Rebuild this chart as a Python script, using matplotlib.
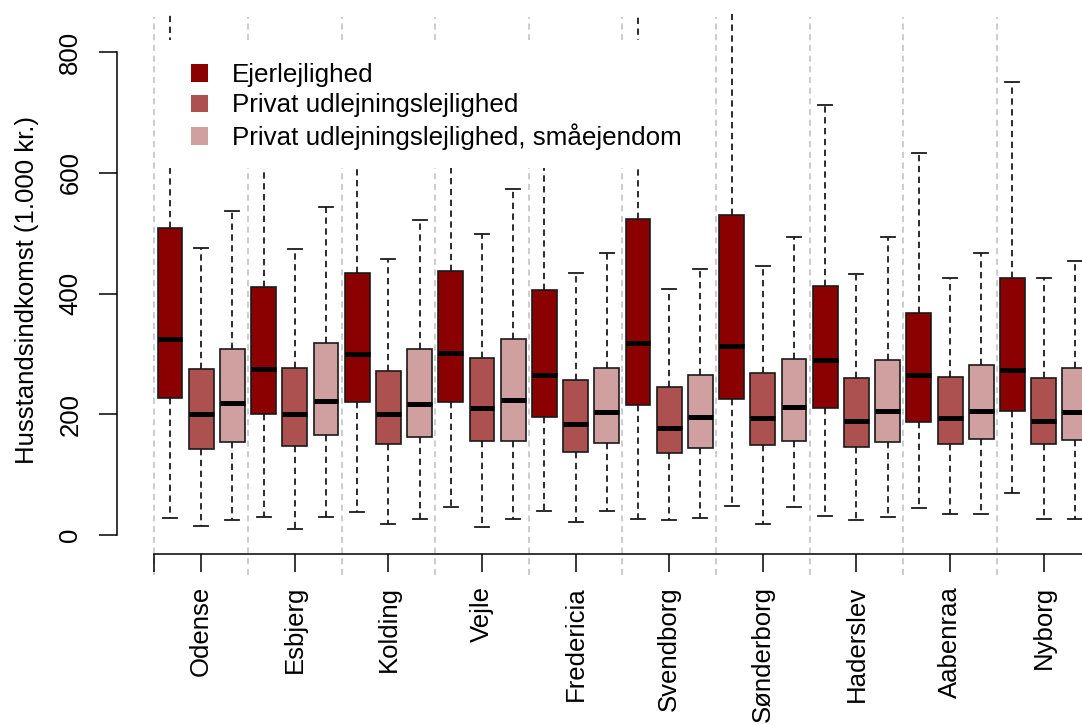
import matplotlib
matplotlib.use("Agg")
import matplotlib.pyplot as plt
from matplotlib.patches import Patch, Rectangle

plt.rcParams['font.family'] = ['Liberation Sans', 'DejaVu Sans']

cities = ['Odense', 'Esbjerg', 'Kolding', 'Vejle', 'Fredericia',
          'Svendborg', 'Sønderborg', 'Haderslev', 'Aabenraa', 'Nyborg']
types = ['Ejerlejlighed', 'Privat udlejningslejlighed',
         'Privat udlejningslejlighed, småejendom']
colors = ['#8B0000', '#AD5050', '#D0A0A0']

# Ejerlejlighed
ejer_lo = [28, 30, 38, 47, 40, 27, 48, 31, 45, 70]
ejer_q1 = [227, 200, 220, 220, 195, 215, 225, 211, 187, 206]
ejer_med = [325, 275, 300, 302, 265, 318, 313, 290, 265, 274]
ejer_q3 = [508, 410, 434, 438, 405, 523, 530, 413, 368, 425]
ejer_hi = [1000, 700, 690, 710, 700, 1000, 1000, 712, 633, 750]

# Privat udlejningslejlighed
priv_lo = [15, 10, 18, 14, 22, 24, 19, 24, 34, 26]
priv_q1 = [143, 147, 150, 156, 137, 136, 149, 145, 151, 150]
priv_med = [200, 200, 200, 211, 184, 177, 194, 189, 194, 188]
priv_q3 = [275, 276, 272, 293, 257, 245, 269, 260, 262, 260]
priv_hi = [475, 473, 457, 498, 434, 407, 446, 432, 426, 426]

# Privat udlejningslejlighed, småejendom
smaa_lo = [25, 29, 26, 27, 40, 28, 47, 29, 34, 26]
smaa_q1 = [154, 165, 163, 156, 152, 144, 156, 154, 159, 158]
smaa_med = [219, 222, 217, 224, 204, 196, 212, 206, 205, 203]
smaa_q3 = [308, 318, 308, 325, 277, 265, 292, 290, 282, 277]
smaa_hi = [537, 543, 522, 573, 467, 440, 493, 494, 467, 454]

series = [
    (ejer_lo, ejer_q1, ejer_med, ejer_q3, ejer_hi),
    (priv_lo, priv_q1, priv_med, priv_q3, priv_hi),
    (smaa_lo, smaa_q1, smaa_med, smaa_q3, smaa_hi),
]

W, H = 1082, 724
fig = plt.figure(figsize=(W / 100, H / 100), dpi=100)
ax = fig.add_axes([117 / W, 1 - 554 / H, (W - 117) / W, 540 / H])

fs = 18.5
n = len(cities)

# separators between city groups
seps = [3 * i + 0.5 for i in range(n)]
ax.vlines(seps, -66, 858, colors='#BEBEBE', linewidth=1.1,
          linestyles=(0, (4, 3)), clip_on=False, zorder=0)

for k, (lo, q1, med, q3, hi) in enumerate(series):
    stats = [dict(whislo=lo[i], q1=q1[i], med=med[i], q3=q3[i], whishi=hi[i])
             for i in range(n)]
    pos = [3 * i + k + 1 for i in range(n)]
    ax.bxp(stats, positions=pos, widths=0.8, capwidths=0.45,
           patch_artist=True, showfliers=False, manage_ticks=False,
           boxprops=dict(facecolor=colors[k], edgecolor='#1a1a1a', linewidth=1.2),
           medianprops=dict(color='black', linewidth=3.6, solid_capstyle='butt'),
           whiskerprops=dict(color='#1a1a1a', linewidth=1.3, linestyle=(0, (3.5, 2.5))),
           capprops=dict(color='#1a1a1a', linewidth=1.3),
           zorder=2)

ax.set_xlim(-0.699, 30.23)
ax.set_ylim(-31.5, 863)

for s in ['top', 'right']:
    ax.spines[s].set_visible(False)
ax.spines['left'].set_bounds(0, 800)
ax.spines['bottom'].set_bounds(0.5, 30.23)
for s in ['left', 'bottom']:
    ax.spines[s].set_linewidth(1.1)

ax.set_yticks([0, 200, 400, 600, 800])
ax.set_yticklabels(['0', '200', '400', '600', '800'], rotation=90, va='center')
ax.set_xticks([0.5] + [3 * i + 2 for i in range(n)])
ax.set_xticklabels([''] + cities, rotation=90, va='top', ha='center')
ax.tick_params(axis='y', length=13, width=1.1, pad=12, labelsize=fs)
ax.tick_params(axis='x', length=13, width=1.1, pad=10, labelsize=fs)

ax.set_ylabel('Husstandsindkomst (1.000 kr.)', fontsize=fs, va='center')
ax.yaxis.set_label_coords(-0.0933, 0.489)

# white legend background (R legend with bg="white", no border)
ax.add_patch(Rectangle((162 / W, 1 - 168 / H), 553 / W, 128 / H,
                       transform=fig.transFigure, facecolor='white',
                       edgecolor='none', clip_on=False, zorder=4))

handles = [Patch(facecolor=c, edgecolor='none') for c in colors]
leg = ax.legend(handles, types, loc='upper left',
                bbox_to_anchor=(175 / W, 1 - 47.5 / H), bbox_transform=fig.transFigure,
                fontsize=18.75, frameon=False, borderpad=0.6, borderaxespad=0,
                handlelength=0.65, handleheight=0.65, handletextpad=0.92,
                labelspacing=0.24)
leg.set_zorder(5)

fig.savefig('out.png', dpi=100)
